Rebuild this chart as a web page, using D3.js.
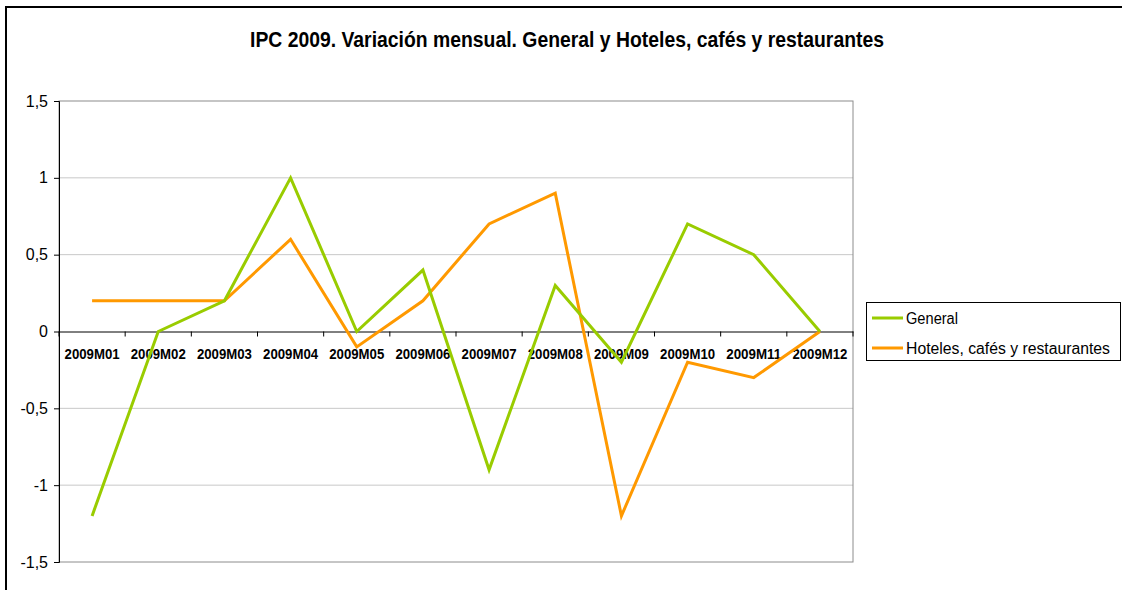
<!DOCTYPE html>
<html>
<head>
<meta charset="utf-8">
<script src="https://cdn.jsdelivr.net/npm/d3@7"></script>
<style>
  body { margin: 0; background: #fff; }
  svg { display: block; font-family: Arial, "Liberation Sans", sans-serif; }
</style>
</head>
<body>
<svg id="chart" width="1122" height="590"></svg>
<script>
const months = ['2009M01', '2009M02', '2009M03', '2009M04', '2009M05', '2009M06',
  '2009M07', '2009M08', '2009M09', '2009M10', '2009M11', '2009M12']
const general = [-1.2, 0, 0.2, 1.0, 0, 0.4, -0.9, 0.3, -0.2, 0.7, 0.5, 0]
const hoteles = [0.2, 0.2, 0.2, 0.6, -0.1, 0.2, 0.7, 0.9, -1.2, -0.2, -0.3, 0]
const yTicks = [-1.5, -1, -0.5, 0, 0.5, 1, 1.5]
const seriesNames = ['General', 'Hoteles, cafés y restaurantes']
const seriesColors = ['#99cc00', '#ff9900']

const svg = d3.select('#chart')
const plot = { left: 59, right: 853, top: 101, bottom: 562 }
const font = 'Arial, "Liberation Sans", sans-serif'

// outer frame
svg.append('rect')
  .attr('x', 6).attr('y', 7).attr('width', 1130).attr('height', 600)
  .attr('fill', 'none').attr('stroke', '#000').attr('stroke-width', 2)

svg.append('text')
  .attr('x', 250).attr('y', 47)
  .attr('font-size', 22).attr('font-weight', 'bold')
  .attr('textLength', 634).attr('lengthAdjust', 'spacingAndGlyphs')
  .text('IPC 2009. Variación mensual. General y Hoteles, cafés y restaurantes')

const x = d3.scaleBand().domain(months).range([plot.left, plot.right])
const y = d3.scaleLinear().domain([-1.5, 1.5]).range([plot.bottom, plot.top])
const fmt = v => String(v).replace('.', ',')

// gridlines
svg.append('g').selectAll('line')
  .data(yTicks.filter(v => v !== 0 && Math.abs(v) !== 1.5))
  .join('line')
  .attr('x1', plot.left).attr('x2', plot.right)
  .attr('y1', d => y(d)).attr('y2', d => y(d))
  .attr('stroke', '#c8c8c8').attr('stroke-width', 1)

// plot area border
svg.append('rect')
  .attr('x', plot.left).attr('y', plot.top)
  .attr('width', plot.right - plot.left).attr('height', plot.bottom - plot.top)
  .attr('fill', 'none').attr('stroke', '#8c8c8c').attr('stroke-width', 1)

// y axis
const yAxis = svg.append('g')
  .attr('transform', `translate(${plot.left},0)`)
  .call(d3.axisLeft(y).tickValues(yTicks).tickFormat(fmt).tickSize(5).tickPadding(6))
yAxis.select('.domain').attr('stroke', '#000')
yAxis.selectAll('.tick line').attr('stroke', '#000')
yAxis.selectAll('text').attr('font-size', 16).attr('font-family', font).attr('fill', '#000')

// x axis at zero
const xAxis = svg.append('g')
  .attr('transform', `translate(0,${y(0)})`)
  .call(d3.axisBottom(x).tickSize(0).tickPadding(0))
xAxis.select('.domain').attr('stroke', '#000')
xAxis.selectAll('text')
  .attr('dy', null).attr('y', 27)
  .attr('font-size', 14).attr('font-weight', 'bold')
  .attr('textLength', 55).attr('lengthAdjust', 'spacingAndGlyphs')
  .attr('font-family', font).attr('fill', '#000')
xAxis.append('g').selectAll('line')
  .data(months.concat(['end']))
  .join('line')
  .attr('x1', (d, i) => plot.left + i * x.step())
  .attr('x2', (d, i) => plot.left + i * x.step())
  .attr('y1', 0).attr('y2', 5)
  .attr('stroke', '#000')

// lines
const line = d3.line()
  .x((d, i) => x(months[i]) + x.bandwidth() / 2)
  .y(d => y(d))

;[hoteles, general].forEach(s => {
  svg.append('path')
    .datum(s)
    .attr('d', line)
    .attr('fill', 'none')
    .attr('stroke', s === general ? seriesColors[0] : seriesColors[1])
    .attr('stroke-width', 3)
})

// legend
const legend = svg.append('g')
legend.append('rect')
  .attr('x', 866.5).attr('y', 302.5).attr('width', 254).attr('height', 58)
  .attr('fill', '#fff').attr('stroke', '#000').attr('stroke-width', 1)
const legendWidths = [52, 204]
seriesNames.forEach((name, k) => {
  const cy = 318 + k * 30
  legend.append('line')
    .attr('x1', 872).attr('x2', 903).attr('y1', cy).attr('y2', cy)
    .attr('stroke', seriesColors[k]).attr('stroke-width', 3)
  legend.append('text')
    .attr('x', 906).attr('y', cy + 5.5)
    .attr('font-size', 16)
    .attr('textLength', legendWidths[k]).attr('lengthAdjust', 'spacingAndGlyphs')
    .text(name)
})
</script>
</body>
</html>
